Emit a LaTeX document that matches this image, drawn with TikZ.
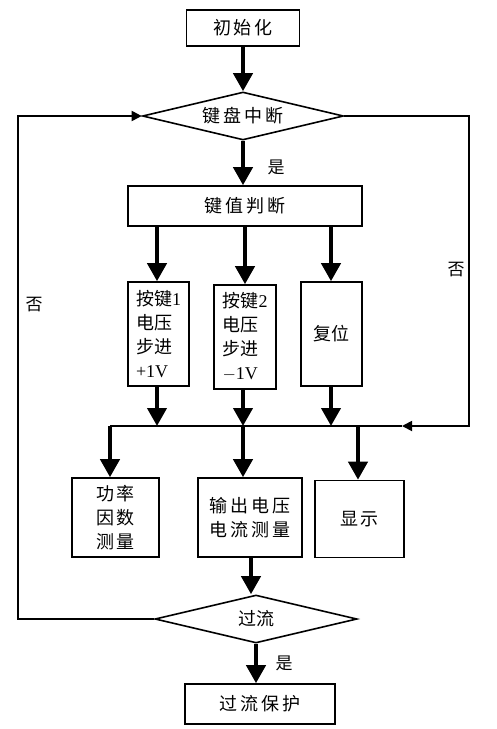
\documentclass[tikz,border=0pt]{standalone}
\usepackage{fontspec}
\setmainfont{Liberation Serif}
\newfontfamily\cjk{Noto Sans CJK SC}
\newfontfamily\latf{Liberation Serif}
\usetikzlibrary{arrows.meta,shapes.geometric}
\begin{document}
\begin{tikzpicture}[x=1pt,y=-1pt,
  box/.style={draw,line width=1.6pt,inner sep=0pt,font=\cjk\fontsize{18}{24}\selectfont,align=center},
  dia/.style={draw,diamond,aspect=4,line width=1.6pt,inner sep=0pt,font=\cjk\fontsize{18}{20}\selectfont},
  big/.style={line width=4pt,-{Triangle[width=19pt,length=18pt]}},
  thinl/.style={line width=1.8pt},
  smalltip/.style={-{Triangle[width=10pt,length=10pt]}},
  lab/.style={font=\cjk\fontsize{17}{20}\selectfont,inner sep=0pt}]
\useasboundingbox (0,0) rectangle (496,729);
\fill[white] (0,0) rectangle (496,729);

\node[box,minimum width=113pt,minimum height=36pt] (init) at (243,28) {初\,始\,化};
\node[dia,minimum width=201pt,minimum height=48pt] (kb) at (243,116) {键\,盘\,中\,断};
\node[box,minimum width=234pt,minimum height=40pt] (judge) at (245,206) {键\,值\,判\,断};
\node[box,minimum width=61pt,minimum height=104pt,align=left] (k1) at (158.5,334) {按键{\latf 1}\\电压\\步进\\{\latf +1V}};
\node[box,minimum width=62pt,minimum height=104pt,align=left] (k2) at (245,337) {按键{\latf 2}\\电压\\步进\\{\latf $-$1V}};
\node[box,minimum width=61pt,minimum height=104pt] (rst) at (331.5,334) {复位};
\node[box,minimum width=87pt,minimum height=79pt] (pf) at (115.5,517.5) {功\,率\\因\,数\\测\,量};
\node[box,minimum width=104pt,minimum height=79pt] (meas) at (250,517.5) {输\,出\,电\,压\\电\,流\,测\,量};
\node[box,minimum width=89pt,minimum height=77pt] (disp) at (359.5,519) {显\,示};
\node[dia,minimum width=202pt,minimum height=48pt] (oc) at (256,619) {过流};
\node[box,minimum width=150pt,minimum height=40pt] (prot) at (260,704) {过\,流\,保\,护};

\coordinate (busL) at (110,426);
\coordinate (busR) at (469,426);
\coordinate (tipR) at (402,426);
\coordinate (lx) at (18,116);

% main flow
\draw[big] (init) -- (kb);
\draw[big] (kb.south) -- (kb.south |- judge.north);
\draw[big] (judge.south -| 157,0) -- (k1.north -| 157,0);
\draw[big] (judge.south -| 245,0) -- (k2.north -| 245,0);
\draw[big] (judge.south -| 331,0) -- (rst.north -| 331,0);
\draw[big] (k1.south -| 157,0) -- (busL -| 157,0);
\draw[big] (k2.south -| 243,0) -- (busL -| 243,0);
\draw[big] (rst.south -| 331,0) -- (busL -| 331,0);
\draw[thinl] (busL) -- (tipR);
\draw[big] (busL) -- (pf.north -| busL);
\draw[big] (busL -| 243,0) -- (meas.north -| 243,0);
\draw[big] (busL -| 358,0) -- (disp.north -| 358,0);
\draw[big] (meas.south -| 251,0) -- (oc.north -| 251,0);
\draw[big] (oc.south) -- (oc.south |- prot.north);

% loops
\draw[thinl,smalltip] (kb.east) -| (busR) -- (tipR);
\draw[thinl,smalltip] (oc.west) -| (lx) -- (kb.west);

% labels
\node[lab] (yes1) at (276,167) {是};
\node[lab] (no1) at (456,270) {否};
\node[lab] (no2) at (34,305) {否};
\node[lab] (yes2) at (284,663) {是};
\end{tikzpicture}
\end{document}
